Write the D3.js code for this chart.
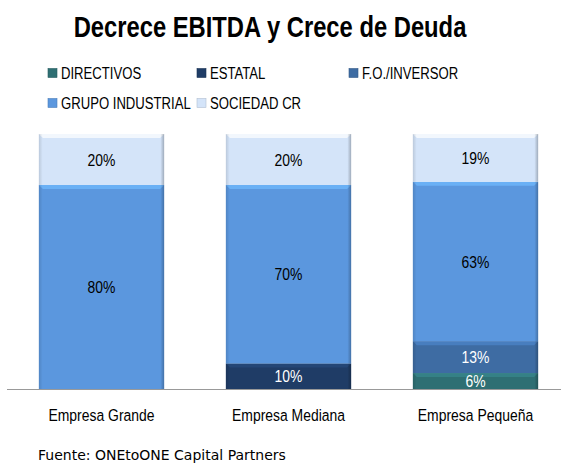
<!DOCTYPE html>
<html>
<head>
<meta charset="utf-8">
<script src="https://cdn.jsdelivr.net/npm/d3@7"></script>
<style>
  body { margin: 0; background: #fff; }
  .narrow { font-family: "Liberation Sans", Arial, sans-serif; }
</style>
</head>
<body>
<div id="chart"></div>
<script>
//categories and series (share of each owner type, %; labels show rounded values)
var categories = ["Empresa Grande", "Empresa Mediana", "Empresa Pequeña"];
var seriesNames = ["DIRECTIVOS", "ESTATAL", "F.O./INVERSOR", "GRUPO INDUSTRIAL", "SOCIEDAD CR"];
var directivos = [0, 0, 6.25];
var estatal = [0, 10, 0];
var inversor = [0, 0, 12.5];
var grupoIndustrial = [80, 70, 62.5];
var sociedadCR = [20, 20, 18.75];
var colors = ["#2e6f73", "#1f3c66", "#3e6ca3", "#5b97de", "#d4e4f9"];
var labelColors = ["#fff", "#fff", "#fff", "#000", "#000"];

var w = 561;
var h = 464;
var squeeze = 0.82; //no narrow font installed, so squeeze the text horizontally

//place text at x,y squeezed like Arial Narrow
function narrowAt(x, y) {
    return "translate(" + x + "," + y + ") scale(" + squeeze + ",1)";
}

//build rows for the stack
var dataset = categories.map(function(c, i) {
    return {
        cat: c,
        "DIRECTIVOS": directivos[i],
        "ESTATAL": estatal[i],
        "F.O./INVERSOR": inversor[i],
        "GRUPO INDUSTRIAL": grupoIndustrial[i],
        "SOCIEDAD CR": sociedadCR[i]
    };
});

var svg = d3.select("#chart")
        .append("svg")
        .attr("width", w)
        .attr("height", h);

//scales
var xScale = d3.scaleBand()
        .domain(categories)
        .range([8, 569])
        .paddingInner(0.33)
        .paddingOuter(0.165);

var yScale = d3.scaleLinear()
        .domain([0, 100])
        .range([389, 134]);

var color = d3.scaleOrdinal().domain(seriesNames).range(colors);

var stack = d3.stack().keys(seriesNames);
var layers = stack(dataset);

//title
svg.append("text")
    .attr("class", "narrow")
    .attr("transform", narrowAt(270, 37))
    .attr("text-anchor", "middle")
    .attr("font-size", 29)
    .attr("font-weight", "bold")
    .text("Decrece EBITDA y Crece de Deuda");

//gradient for the bevel shading
var defs = svg.append("defs");
var side = defs.append("linearGradient").attr("id", "side");
side.append("stop").attr("offset", "0").attr("stop-color", "#000").attr("stop-opacity", 0.12);
side.append("stop").attr("offset", "0.03").attr("stop-color", "#000").attr("stop-opacity", 0);
side.append("stop").attr("offset", "0.97").attr("stop-color", "#000").attr("stop-opacity", 0);
side.append("stop").attr("offset", "1").attr("stop-color", "#000").attr("stop-opacity", 0.25);

//bars
var groups = svg.selectAll("g.layer")
    .data(layers)
    .enter()
    .append("g")
    .attr("class", "layer");

var segs = groups.selectAll("g.seg")
    .data(function(d, i) { return d.map(function(v) { return {v: v, key: d.key, idx: i}; }); })
    .enter()
    .filter(function(d) { return d.v[1] - d.v[0] > 0; })
    .append("g")
    .attr("class", "seg");

segs.append("rect")
    .attr("x", function(d) { return xScale(d.v.data.cat); })
    .attr("y", function(d) { return yScale(d.v[1]); })
    .attr("width", xScale.bandwidth())
    .attr("height", function(d) { return yScale(d.v[0]) - yScale(d.v[1]); })
    .attr("fill", function(d) { return color(d.key); });

//top bevel highlight
segs.append("path")
    .attr("d", function(d) {
        var x0 = xScale(d.v.data.cat), x1 = x0 + xScale.bandwidth(), y = yScale(d.v[1]);
        return "M" + x0 + "," + y + "L" + x1 + "," + y + "L" + (x1 - 4) + "," + (y + 4) + "L" + (x0 + 4) + "," + (y + 4) + "Z";
    })
    .attr("fill", function(d) { return d3.color(color(d.key)).brighter(0.6); })
    .attr("opacity", 0.7);

segs.append("rect")
    .attr("x", function(d) { return xScale(d.v.data.cat); })
    .attr("y", function(d) { return yScale(d.v[1]); })
    .attr("width", xScale.bandwidth())
    .attr("height", function(d) { return yScale(d.v[0]) - yScale(d.v[1]); })
    .attr("fill", "url(#side)");

//value labels
segs.append("text")
    .attr("class", "narrow")
    .attr("transform", function(d) {
        return narrowAt(xScale(d.v.data.cat) + xScale.bandwidth() / 2, (yScale(d.v[0]) + yScale(d.v[1])) / 2 + 6);
    })
    .attr("text-anchor", "middle")
    .attr("font-size", 17)
    .attr("fill", function(d) { return labelColors[d.idx]; })
    .text(function(d) { return Math.round(d.v[1] - d.v[0]) + "%"; });

//x axis line
svg.append("line")
    .attr("x1", 7)
    .attr("x2", w)
    .attr("y1", 389.5)
    .attr("y2", 389.5)
    .attr("stroke", "#999")
    .attr("stroke-width", 1.2);

//category labels
svg.selectAll("text.cat")
    .data(categories)
    .enter()
    .append("text")
    .attr("class", "cat narrow")
    .attr("transform", function(d) { return narrowAt(xScale(d) + xScale.bandwidth() / 2, 421); })
    .attr("text-anchor", "middle")
    .attr("font-size", 17)
    .text(function(d) { return d; });

//legend
var legendPos = [[48, 73], [197, 73], [349, 73], [48, 103], [197, 103]];
var legend = svg.selectAll("g.legend")
    .data(seriesNames)
    .enter()
    .append("g")
    .attr("class", "legend")
    .attr("transform", function(d, i) { return "translate(" + legendPos[i][0] + "," + legendPos[i][1] + ")"; });

legend.append("rect")
    .attr("x", 0)
    .attr("y", -4.5)
    .attr("width", 9)
    .attr("height", 9)
    .attr("fill", function(d) { return color(d); })
    .attr("stroke", function(d) { return d3.color(color(d)).darker(0.5); })
    .attr("stroke-width", 0.6);

legend.append("text")
    .attr("class", "narrow")
    .attr("transform", narrowAt(13, 6))
    .attr("font-size", 16)
    .text(function(d) { return d; });

//source note
svg.append("text")
    .attr("x", 38)
    .attr("y", 460)
    .attr("font-family", "'DejaVu Sans', sans-serif")
    .attr("font-size", 14)
    .text("Fuente: ONEtoONE Capital Partners");
</script>
</body>
</html>
